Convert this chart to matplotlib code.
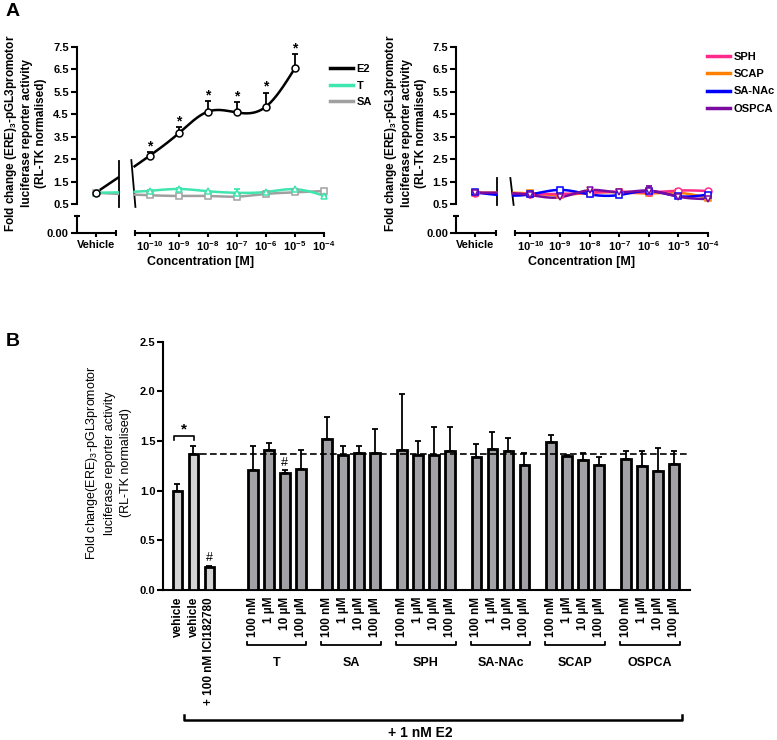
import numpy as np
import matplotlib
matplotlib.use("Agg")
import matplotlib.pyplot as plt
from matplotlib.lines import Line2D

plt.rcParams["font.family"] = ["Liberation Sans", "DejaVu Sans"]
plt.rcParams["font.weight"] = "bold"
plt.rcParams["mathtext.default"] = "regular"
plt.rcParams["axes.linewidth"] = 1.5

# ---------------- panel A data ----------------
# x = log10 concentration; the vehicle point sits left of the axis break
conc_log = [-10, -9, -8, -7, -6, -5, -4]
conc_labels = ["$10^{-10}$", "$10^{-9}$", "$10^{-8}$", "$10^{-7}$",
               "$10^{-6}$", "$10^{-5}$", "$10^{-4}$"]
VEH_X = -11.87

# first value = vehicle
e2_mean = [1.00, 2.66, 3.66, 4.62, 4.58, 4.84, 6.56]
e2_err = [0.00, 0.17, 0.26, 0.48, 0.46, 0.63, 0.64]
t_mean = [1.00, 1.09, 1.17, 1.07, 1.00, 1.04, 1.16, 0.87]
t_err = [0.03, 0.04, 0.04, 0.03, 0.16, 0.04, 0.03, 0.03]
sa_mean = [1.00, 0.89, 0.86, 0.86, 0.83, 0.95, 1.02, 1.08]
sa_err = [0.03, 0.03, 0.03, 0.03, 0.03, 0.05, 0.03, 0.03]

sph_mean = [1.00, 0.95, 0.95, 1.00, 1.05, 1.02, 1.10, 1.08]
sph_err = [0.05, 0.05, 0.05, 0.05, 0.06, 0.05, 0.06, 0.06]
scap_mean = [1.00, 0.97, 0.90, 1.00, 1.02, 0.97, 1.00, 0.78]
scap_err = [0.04, 0.04, 0.05, 0.05, 0.05, 0.05, 0.05, 0.05]
sanac_mean = [1.02, 0.93, 1.13, 0.93, 0.90, 1.08, 0.85, 0.92]
sanac_err = [0.04, 0.05, 0.06, 0.05, 0.05, 0.06, 0.05, 0.06]
ospca_mean = [1.00, 0.90, 0.80, 1.12, 1.02, 1.10, 0.83, 0.72]
ospca_err = [0.05, 0.20, 0.05, 0.08, 0.06, 0.22, 0.05, 0.05]

# ---------------- panel B data ----------------
ctrl_labels = ["vehicle", "vehicle", "+ 100 nM ICI182780"]
ctrl_mean = [1.00, 1.37, 0.23]
ctrl_err = [0.07, 0.08, 0.01]
group_names = ["T", "SA", "SPH", "SA-NAc", "SCAP", "OSPCA"]
dose_labels = ["100 nM", "1 µM", "10 µM", "100 µM"]
group_mean = [[1.21, 1.41, 1.18, 1.22],
              [1.52, 1.36, 1.38, 1.38],
              [1.41, 1.36, 1.36, 1.40],
              [1.34, 1.42, 1.40, 1.26],
              [1.49, 1.35, 1.31, 1.26],
              [1.32, 1.245, 1.195, 1.27]]
group_err = [[0.24, 0.07, 0.03, 0.19],
             [0.22, 0.09, 0.07, 0.24],
             [0.56, 0.14, 0.28, 0.24],
             [0.13, 0.17, 0.13, 0.12],
             [0.07, 0.01, 0.07, 0.08],
             [0.08, 0.155, 0.235, 0.13]]


def spline(x, y, n=40):
    """natural cubic spline, only used to draw the smooth connecting line"""
    x = np.asarray(x, float)
    y = np.asarray(y, float)
    k = len(x)
    h = np.diff(x)
    A = np.zeros((k, k))
    r = np.zeros(k)
    A[0, 0] = A[-1, -1] = 1
    for i in range(1, k - 1):
        A[i, i - 1] = h[i - 1]
        A[i, i] = 2 * (h[i - 1] + h[i])
        A[i, i + 1] = h[i]
        r[i] = 3 * ((y[i + 1] - y[i]) / h[i] - (y[i] - y[i - 1]) / h[i - 1])
    c = np.linalg.solve(A, r)
    xs, ys = [], []
    for i in range(k - 1):
        t = np.linspace(0, h[i], n)
        b = (y[i + 1] - y[i]) / h[i] - h[i] * (2 * c[i] + c[i + 1]) / 3
        d = (c[i + 1] - c[i]) / (3 * h[i])
        xs.append(x[i] + t)
        ys.append(y[i] + b * t + c[i] * t ** 2 + d * t ** 3)
    return np.concatenate(xs), np.concatenate(ys)


def draw_series(ax, mean, err, color, marker, gap, stars=False):
    x = [VEH_X] + conc_log[:len(mean) - 1]
    sx, sy = spline(x, mean)
    sy[(sx > gap[0]) & (sx < gap[1])] = np.nan
    ax.plot(sx, sy, color=color, lw=1.8, clip_on=False, zorder=3)
    ax.errorbar(x, mean, yerr=[np.zeros(len(err)), err], fmt="none", ecolor=color,
                elinewidth=1.3, capsize=2.5, capthick=1.3, clip_on=False, zorder=2)
    ax.plot(x, mean, ls="none", marker=marker, mfc="white", mec=color, ms=5,
            mew=1.1, clip_on=False, zorder=4)
    if stars:
        for xi, m, e in zip(x[1:], mean[1:], err[1:]):
            ax.annotate("*", (xi, m + e), xytext=(0, -1), textcoords="offset points",
                        ha="center", va="bottom", fontsize=10, fontweight="bold")


fig = plt.figure(figsize=(7.77, 7.40), dpi=100)


def panel_a(left, width, lab_x, breaks):
    ax = fig.add_axes([left, 0.7243, width, 0.2122])
    axl = fig.add_axes([left, 0.6847, width, 0.0238])
    for a in (ax, axl):
        a.set_xlim(-12.53, -4.0)
        a.spines["top"].set_visible(False)
        a.spines["right"].set_visible(False)
        a.patch.set_alpha(0)
    ax.set_ylim(0.5, 7.5)
    ax.spines["bottom"].set_visible(False)
    ax.set_yticks(np.arange(0.5, 7.6, 1.0))
    ax.set_yticklabels(["%.1f" % v for v in np.arange(0.5, 7.6, 1.0)])
    ax.tick_params(axis="x", bottom=False, labelbottom=False)
    ax.tick_params(axis="y", direction="out", length=4.5, width=1.5, labelsize=8, pad=1)

    axl.set_ylim(0, 1)
    axl.set_yticks([0])
    axl.set_yticklabels(["0.00"])
    axl.set_yticks([1], minor=True)
    axl.tick_params(axis="y", which="major", direction="out", length=4.5, width=1.5,
                    labelsize=8, pad=1)
    axl.tick_params(axis="y", which="minor", direction="inout", length=5, width=1.5)
    axl.spines["bottom"].set_bounds(-10.52, -4.0)
    axl.plot([-12.53, -11.18], [0, 0], transform=axl.get_xaxis_transform(),
             color="k", lw=1.5, clip_on=False, solid_capstyle="butt")
    axl.set_xticks([VEH_X] + conc_log)
    axl.set_xticklabels(["Vehicle"] + conc_labels)
    axl.set_xticks([-11.18, -10.52], minor=True)
    axl.tick_params(axis="x", which="major", direction="out", length=3, width=1.5,
                    labelsize=8, pad=1.5)
    axl.tick_params(axis="x", which="minor", direction="inout", length=5, width=1.5)
    axl.set_xlabel("Concentration [M]", fontsize=9, fontweight="bold", labelpad=2)

    # axis break marks through the data area
    for (x0, y0, x1, y1) in breaks:
        ax.plot([x0, x1], [y0, y1], color="k", lw=1.3, clip_on=False)

    fig.text(lab_x, 1 - 133 / 740,
             "Fold change (ERE)$_3$-pGL3promotor\nluciferase reporter activity\n(RL-TK normalised)",
             rotation=90, ha="center", va="center", multialignment="center",
             fontsize=8.5, fontweight="bold", linespacing=1.25)
    return ax


# ---------------- panel A left ----------------
axA1 = panel_a(76.5 / 777, 247.5 / 777, 25 / 777,
               [(-11.07, 2.42, -11.07, 0.37), (-10.64, 2.46, -10.5, 0.37)])
gapA = (-11.07, -10.55)
draw_series(axA1, sa_mean, sa_err, "#a0a0a0", "s", gapA)
draw_series(axA1, t_mean, t_err, "#40e6b0", "^", gapA)
draw_series(axA1, e2_mean, e2_err, "black", "o", gapA, stars=True)
axA1.legend(handles=[Line2D([], [], color=c, lw=2.5) for c in ["black", "#40e6b0", "#a0a0a0"]],
            labels=["E2", "T", "SA"], loc="upper left", bbox_to_anchor=(330 / 777, 1 - 64 / 740),
            bbox_transform=fig.transFigure, frameon=False, borderaxespad=0, borderpad=0,
            handlelength=2.1, handletextpad=0.3, labelspacing=0.6,
            prop={"size": 8, "weight": "bold"})

# ---------------- panel A right ----------------
axA2 = panel_a(455.7 / 777, 252 / 777, 405 / 777,
               [(-11.12, 1.66, -11.12, 0.46), (-10.68, 1.66, -10.57, 0.46)])
gapB = (-11.12, -10.6)
draw_series(axA2, scap_mean, scap_err, "#ff8000", "s", gapB)
draw_series(axA2, sph_mean, sph_err, "#ff2a8a", "o", gapB)
draw_series(axA2, sanac_mean, sanac_err, "#0000ff", "s", gapB)
draw_series(axA2, ospca_mean, ospca_err, "#7a0aa0", "v", gapB)
axA2.legend(handles=[Line2D([], [], color=c, lw=2.5)
                     for c in ["#ff2a8a", "#ff8000", "#0000ff", "#7a0aa0"]],
            labels=["SPH", "SCAP", "SA-NAc", "OSPCA"], loc="upper left",
            bbox_to_anchor=(707 / 777, 1 - 52 / 740), bbox_transform=fig.transFigure,
            frameon=False, borderaxespad=0, borderpad=0, handlelength=2.1,
            handletextpad=0.3, labelspacing=0.65, prop={"size": 8, "weight": "bold"})

fig.text(13 / 777, 1 - 12 / 740, "A", fontsize=14, fontweight="bold", ha="center", va="center")
fig.text(13 / 777, 1 - 342 / 740, "B", fontsize=14, fontweight="bold", ha="center", va="center")

# ---------------- panel B ----------------
axB = fig.add_axes([163 / 777, 1 - 590 / 740, 527 / 777, 248.3 / 740])
axB.set_xlim(-0.906, 32.03)
axB.set_ylim(0, 2.5)
axB.spines["top"].set_visible(False)
axB.spines["right"].set_visible(False)

W = 0.62
ctrl_x = np.arange(len(ctrl_mean), dtype=float)
axB.bar(ctrl_x, ctrl_mean, width=W, color="#d4d4d4", edgecolor="black", linewidth=2, zorder=3)
axB.errorbar(ctrl_x, ctrl_mean, yerr=[np.zeros(3), ctrl_err], fmt="none", ecolor="black",
             elinewidth=1.3, capsize=2.5, capthick=1.3, zorder=2)

trans = axB.get_xaxis_transform()
all_x = list(ctrl_x)
for g, name in enumerate(group_names):
    gx = 4.69 + 4.665 * g + np.arange(4)
    all_x += list(gx)
    axB.bar(gx, group_mean[g], width=W, color="#a2a2a6", edgecolor="black",
            linewidth=2, zorder=3)
    axB.errorbar(gx, group_mean[g], yerr=[np.zeros(4), group_err[g]], fmt="none",
                 ecolor="black", elinewidth=1.3, capsize=2.5, capthick=1.3, zorder=2)
    x0, x1 = gx[0] - W / 2 - 0.05, gx[-1] + W / 2 + 0.05
    axB.plot([x0, x0, x1, x1], [-0.209, -0.2215, -0.2215, -0.209], transform=trans,
             color="black", lw=1.3, clip_on=False)
    axB.text((x0 + x1) / 2, -0.294, name, transform=trans, ha="center", va="center",
             fontsize=9, fontweight="bold")

axB.set_xticks(all_x)
axB.set_xticklabels(ctrl_labels + dose_labels * len(group_names), rotation=90)
axB.tick_params(axis="x", length=0, pad=5, labelsize=8.5)
axB.set_yticks(np.arange(0, 2.51, 0.5))
axB.set_yticklabels(["%.1f" % v for v in np.arange(0, 2.51, 0.5)])
axB.tick_params(axis="y", direction="out", length=4.5, width=1.5, labelsize=8, pad=1)

# reference level of E2 + vehicle
axB.plot([1.41, 32.03], [ctrl_mean[1]] * 2, color="black", lw=1.2, dashes=(4, 2), zorder=4)

# significance marks
axB.plot([-0.22, -0.22, 1.03, 1.03], [1.51, 1.55, 1.55, 1.51], color="black", lw=1.2)
axB.text(0.4, 1.55, "*", ha="center", va="bottom", fontsize=11, fontweight="bold")
axB.text(2, ctrl_mean[2] + ctrl_err[2] + 0.02, "#", ha="center", va="bottom",
         fontsize=9, fontweight="normal")
axB.text(4.69 + 2, group_mean[0][2] + group_err[0][2] + 0.01, "#", ha="center",
         va="bottom", fontsize=9, fontweight="normal")

# "+ 1 nM E2" bracket
axB.plot([0.41, 0.41, 31.5, 31.5], [-0.505, -0.5236, -0.5236, -0.505], transform=trans,
         color="black", lw=1.8, clip_on=False)
axB.text(15.16, -0.574, "+ 1 nM E2", transform=trans, ha="center", va="center",
         fontsize=10, fontweight="bold")

fig.text(108 / 777, 1 - 463 / 740,
         "Fold change(ERE)$_3$-pGL3promotor\nluciferase reporter activity\n(RL-TK normalised)",
         rotation=90, ha="center", va="center", multialignment="center",
         fontsize=9, fontweight="normal", linespacing=1.5)

fig.savefig("out.png", dpi=100)
